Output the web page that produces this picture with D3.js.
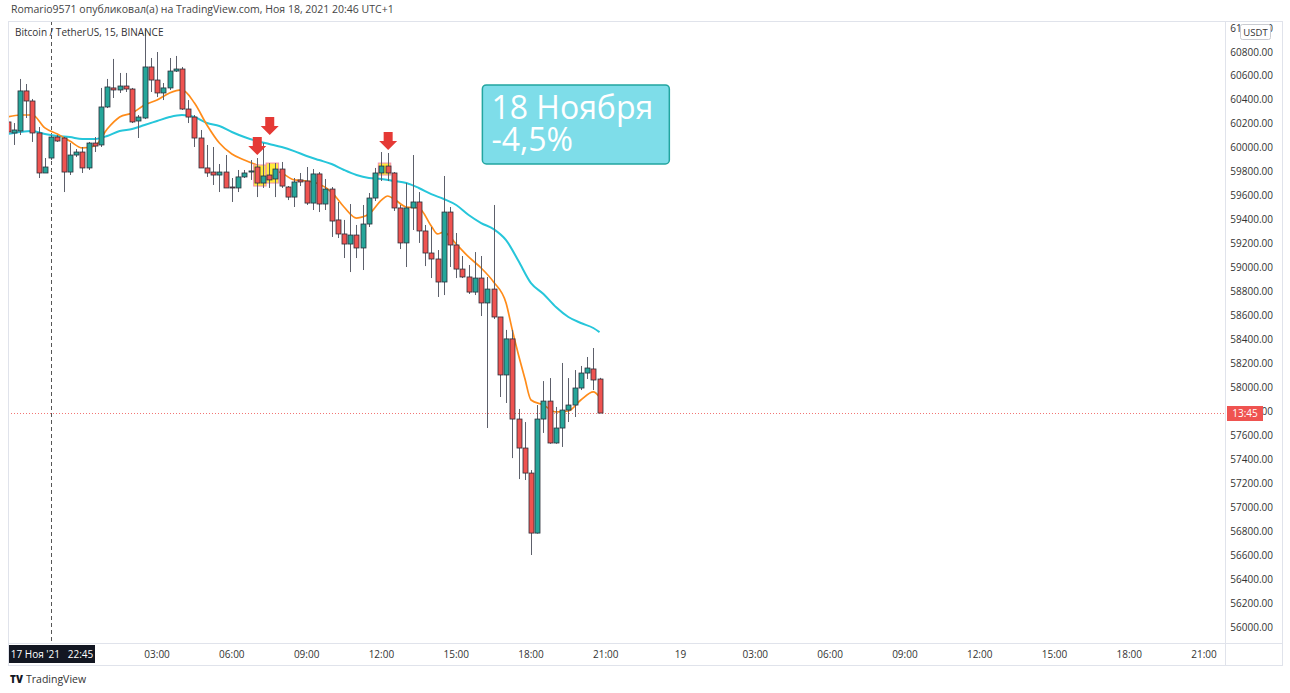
<!DOCTYPE html>
<html>
<head>
<meta charset="utf-8">
<script src="https://cdnjs.cloudflare.com/ajax/libs/d3/7.8.5/d3.min.js"></script>
<style>
  html, body { margin: 0; padding: 0; background: #fff; }
  svg { display: block; font-family: "Open Sans", Roboto, sans-serif; }
</style>
</head>
<body>
<div id="chart"></div>
<script>
// BTCUSDT 15m candles, 17 Nov 21:00 -> 18 Nov 20:45
var open = [60216,60124,60141,60475,60391,60124,59790,59915,60090,60082,59798,59940,59965,59832,60040,60024,
  60341,60500,60483,60516,60491,60224,60249,60675,60566,60458,60500,60641,60658,60324,60257,60082,
  59832,59798,59773,59798,59673,59665,59757,59798,59840,59706,59773,59740,59823,59673,59589,59732,
  59723,59539,59782,59531,59656,59398,59281,59197,59272,59164,59364,59581,59790,59848,59790,59498,
  59206,59498,59548,59306,59122,59072,58880,59464,59189,58988,58922,58796,58913,58705,58821,58588,
  58104,58405,57736,57494,57285,56784,57736,57886,57536,57661,57811,57853,57995,58120,58154,58070]
var high = [60249,60207,60575,60533,60408,60174,59915,60107,60107,60090,60040,59990,60007,60049,60090,60500,
  60575,60742,60625,60625,60500,60274,60984,60750,60800,60541,60750,60767,60675,60399,60274,60149,
  60024,60007,59865,59940,59748,59815,59815,59898,59915,60040,59873,59873,59882,59681,59748,59790,
  59840,59823,59798,59740,59673,59548,59398,59531,59356,59523,59623,59832,59965,59957,59798,59523,
  59706,59940,59631,59356,59339,59147,59765,59506,59289,59097,59022,59130,59097,58922,59523,58588,
  58480,58480,57820,57711,57310,57853,58053,58078,57837,58204,58078,58145,58179,58254,58329,58080]
var low = [60107,60024,60107,60249,60049,59748,59790,59898,60049,59631,59773,59923,59790,59815,59965,60007,
  60332,60416,60458,60466,60207,60082,60240,60466,60424,60399,60483,60633,60316,60207,60007,59832,
  59757,59690,59631,59665,59548,59631,59748,59732,59589,59665,59665,59589,59665,59564,59506,59681,
  59523,59481,59464,59481,59256,59247,59080,58963,59080,58980,59339,59556,59723,59723,59473,59155,
  59005,59314,59206,59013,58913,58755,58771,59005,58913,58913,58780,58771,58596,57661,58571,57920,
  57870,57410,57235,57227,56601,56780,57620,57530,57530,57503,57711,57753,57978,58070,57978,57786]
var close = [60132,60149,60475,60391,60124,59790,59840,60090,60057,59798,59940,59965,59832,60040,60015,60341,
  60508,60483,60516,60491,60216,60257,60675,60566,60458,60500,60641,60658,60324,60257,60082,59832,
  59790,59773,59798,59665,59665,59757,59790,59807,59706,59765,59732,59823,59681,59589,59715,59715,
  59539,59782,59531,59656,59389,59281,59197,59272,59164,59364,59581,59790,59848,59790,59498,59206,
  59498,59548,59306,59122,59072,58880,59464,59189,58988,58922,58796,58913,58705,58821,58588,58104,
  58405,57736,57494,57285,56784,57736,57886,57536,57661,57811,57853,57995,58120,58162,58062,57786]

// orange (fast) and cyan (slow) moving averages, read at these candle indices
var fastIdx = [0,2,4,6,8,10,12,14,16,18,20,22,24,26,28,30,32,34,36,38,40,42,44,46,48,50,52,54,56,58,60,61,62,
  64,66,68,69,70,72,74,76,78,80,81,82,83,84,86,88,90,92,94,95]
var fastMA = [60257,60274,60274,60166,60115,60057,59999,60015,60157,60257,60291,60358,60399,60458,60483,60374,
  60191,60040,59948,59898,59857,59823,59790,59732,59723,59698,59631,59506,59414,59447,59564,59598,59573,
  59506,59498,59347,59281,59297,59197,59089,58997,58880,58705,58480,58270,58078,57895,57853,57795,57803,
  57895,57962,57920]
var slowIdx = [0,2,4,6,8,10,12,14,16,18,20,22,24,26,28,30,32,34,36,38,40,42,44,46,48,50,52,54,56,58,60,62,
  64,66,68,70,72,74,76,78,80,82,84,86,88,90,92,94,95]
var slowMA = [60115,60132,60141,60115,60099,60090,60074,60074,60099,60141,60157,60191,60224,60257,60274,60257,
  60207,60182,60132,60090,60057,60032,60007,59973,59932,59898,59865,59815,59773,59748,59740,59723,
  59706,59665,59614,59573,59523,59439,59372,59322,59230,59055,58871,58780,58671,58588,58538,58496,58462]

var priceTicks = d3.range(56000, 61001, 200)

// drawings on the chart: arrows (candle index, tip price), highlight boxes
var arrowIdx = [40, 42, 61]
var arrowTip = [59940, 60107, 59982]
var boxIdx = [[39.5, 41.5], [41.5, 43.5], [59.5, 61.5]]
var boxPrice = [[59857, 59681], [59873, 59706], [59873, 59773]]
var noteText = ["18 Ноября", "-4,5%"]

var W = 1290, H = 693
var paneL = 8, paneR = 1225, paneT = 21, paneB = 643, frameR = 1282, frameB = 665
var step = 15 * 60 * 1000
var t0 = Date.UTC(2021, 10, 17, 21, 0)

var candles = open.map(function (o, i) {
  return { i: i, t: new Date(t0 + i * step), o: o, h: high[i], l: low[i], c: close[i] }
})

var x = d3.scaleTime()
  .domain([new Date(t0), new Date(t0 + 195 * step)])
  .range([7.5, 7.5 + 195 * 6.232])
var xi = function (i) { return x(new Date(t0 + i * step)) }
var y = d3.scaleLinear().domain([56000, 60800]).range([627, 52])

var svg = d3.select("#chart").append("svg")
  .attr("width", W).attr("height", H)

svg.append("text")
  .attr("x", 11).attr("y", 13)
  .attr("font-size", 10.5).attr("fill", "#444")
  .text("Romario9571 опубликовал(а) на TradingView.com, Ноя 18, 2021 20:46 UTC+1")

// frame
svg.append("rect")
  .attr("x", paneL + 0.5).attr("y", paneT + 0.5)
  .attr("width", frameR - paneL).attr("height", frameB - paneT)
  .attr("fill", "none").attr("stroke", "#e0e3eb")
svg.append("line")
  .attr("x1", paneL).attr("x2", frameR).attr("y1", paneB + 0.5).attr("y2", paneB + 0.5)
  .attr("stroke", "#e0e3eb")
svg.append("line")
  .attr("x1", paneR + 0.5).attr("x2", paneR + 0.5).attr("y1", paneT).attr("y2", frameB)
  .attr("stroke", "#e0e3eb")

svg.append("clipPath").attr("id", "pane")
  .append("rect")
  .attr("x", paneL + 1).attr("y", paneT + 1)
  .attr("width", paneR - paneL - 1).attr("height", paneB - paneT - 1)

var plot = svg.append("g").attr("clip-path", "url(#pane)")

// crosshair at 22:45
plot.append("line")
  .attr("x1", Math.round(xi(7)) + 0.5).attr("x2", Math.round(xi(7)) + 0.5)
  .attr("y1", paneT).attr("y2", paneB)
  .attr("stroke", "#555").attr("stroke-dasharray", "4,3")

// last price line
var last = candles[candles.length - 1]
plot.append("line")
  .attr("x1", paneL).attr("x2", paneR)
  .attr("y1", Math.round(y(last.c)) + 0.5).attr("y2", Math.round(y(last.c)) + 0.5)
  .attr("stroke", "#ef5350").attr("stroke-opacity", 0.8).attr("stroke-dasharray", "1,2")

// moving averages
var line = d3.line().curve(d3.curveMonotoneX)
plot.append("path")
  .datum(slowIdx.map(function (k, j) { return [xi(k), y(slowMA[j])] }))
  .attr("d", line)
  .attr("fill", "none").attr("stroke", "#26c6da").attr("stroke-width", 2)
plot.append("path")
  .datum(fastIdx.map(function (k, j) { return [xi(k), y(fastMA[j])] }))
  .attr("d", line)
  .attr("fill", "none").attr("stroke", "#ff8c1a").attr("stroke-width", 1.7)

// highlight boxes
plot.selectAll(".hl").data(boxIdx).enter().append("rect")
  .attr("class", "hl")
  .attr("x", function (d) { return xi(d[0]) })
  .attr("width", function (d) { return xi(d[1]) - xi(d[0]) })
  .attr("y", function (d, j) { return y(boxPrice[j][0]) })
  .attr("height", function (d, j) { return y(boxPrice[j][1]) - y(boxPrice[j][0]) })
  .attr("fill", "#ffeb3b")
  .attr("stroke", "#f48fb1").attr("stroke-width", 1)

// candles
var g = plot.selectAll(".candle").data(candles).enter().append("g").attr("class", "candle")
g.append("line")
  .attr("x1", function (d) { return Math.round(xi(d.i)) + 0.5 })
  .attr("x2", function (d) { return Math.round(xi(d.i)) + 0.5 })
  .attr("y1", function (d) { return y(d.h) })
  .attr("y2", function (d) { return y(d.l) })
  .attr("stroke", "#5d606b").attr("stroke-width", 1)
g.append("rect")
  .attr("x", function (d) { return Math.round(xi(d.i)) - 2 })
  .attr("width", 5)
  .attr("y", function (d) { return y(Math.max(d.o, d.c)) })
  .attr("height", function (d) { return Math.max(1, Math.abs(y(d.o) - y(d.c))) })
  .attr("fill", function (d) { return d.c >= d.o ? "#26a69a" : "#ef5350" })
  .attr("stroke", "#2a2e39").attr("stroke-width", 0.8)

// arrows
var arrowPath = "M-4.5,-18 L4.5,-18 L4.5,-9 L9,-9 L0,0 L-9,-9 L-4.5,-9 Z"
plot.selectAll(".arrow").data(arrowIdx).enter().append("path")
  .attr("class", "arrow")
  .attr("transform", function (d, j) { return "translate(" + (xi(d) + 0.5) + "," + y(arrowTip[j]) + ")" })
  .attr("d", arrowPath)
  .attr("fill", "#e53935")

// note box
var nx0 = xi(76.2), nx1 = xi(106.2), ny0 = y(60525), ny1 = y(59865)
svg.append("rect")
  .attr("x", nx0).attr("y", ny0).attr("width", nx1 - nx0).attr("height", ny1 - ny0)
  .attr("rx", 4)
  .attr("fill", "#7edde9").attr("stroke", "#22a5a0").attr("stroke-width", 1.5)
svg.selectAll(".note").data(noteText).enter().append("text")
  .attr("class", "note")
  .attr("x", nx0 + 9)
  .attr("y", function (d, j) { return ny0 + 34 + j * 32 })
  .attr("font-size", 32).attr("fill", "#fff")
  .text(function (d) { return d })

// legend
svg.append("text")
  .attr("x", 15).attr("y", 36)
  .attr("font-size", 10).attr("fill", "#333")
  .text("Bitcoin / TetherUS, 15, BINANCE")

// price axis
var yAxis = svg.append("g")
yAxis.selectAll("text").data(priceTicks).enter().append("text")
  .attr("x", 1273).attr("y", function (d) { return y(d) + 3.5 })
  .attr("text-anchor", "end").attr("font-size", 10).attr("fill", "#333")
  .text(function (d) { return d.toFixed(2) })

svg.append("rect")
  .attr("x", 1240.5).attr("y", 24.5).attr("width", 30).attr("height", 15).attr("rx", 2)
  .attr("fill", "#fff").attr("stroke", "#c9cbd1")
svg.append("text")
  .attr("x", 1255.5).attr("y", 35.5).attr("text-anchor", "middle")
  .attr("font-size", 9.5).attr("fill", "#333").text("USDT")

// countdown label
svg.append("rect")
  .attr("x", 1227).attr("y", Math.round(y(last.c)) - 7).attr("width", 36).attr("height", 15)
  .attr("fill", "#ef5350")
svg.append("text")
  .attr("x", 1245).attr("y", Math.round(y(last.c)) + 4).attr("text-anchor", "middle")
  .attr("font-size", 10).attr("fill", "#fff").text("13:45")

// time axis (the 00:00 tick of the 18th sits under the crosshair label)
var timeTicks = d3.utcHour.every(3).range(new Date(t0 + 24 * step), new Date(t0 + 193 * step))
var fmt = function (d) { return d.getUTCHours() === 0 ? d3.utcFormat("%-d")(d) : d3.utcFormat("%H:%M")(d) }
svg.append("g").selectAll("text").data(timeTicks).enter().append("text")
  .attr("x", function (d) { return x(d) }).attr("y", 658)
  .attr("text-anchor", "middle").attr("font-size", 10).attr("fill", "#333")
  .text(fmt)

// crosshair time label
svg.append("rect")
  .attr("x", paneL + 1).attr("y", 645).attr("width", 86).attr("height", 18)
  .attr("fill", "#131722")
svg.append("text")
  .attr("x", paneL + 44).attr("y", 658).attr("text-anchor", "middle")
  .attr("font-size", 10).attr("fill", "#fff").attr("xml:space", "preserve")
  .text("17 Ноя '21   22:45")

// footer
svg.append("text")
  .attr("x", 10).attr("y", 683)
  .attr("font-size", 10).attr("font-weight", 900).attr("fill", "#131722")
  .text("TV")
svg.append("text")
  .attr("x", 26).attr("y", 683)
  .attr("font-size", 10.5).attr("fill", "#333")
  .text("TradingView")
</script>
</body>
</html>
